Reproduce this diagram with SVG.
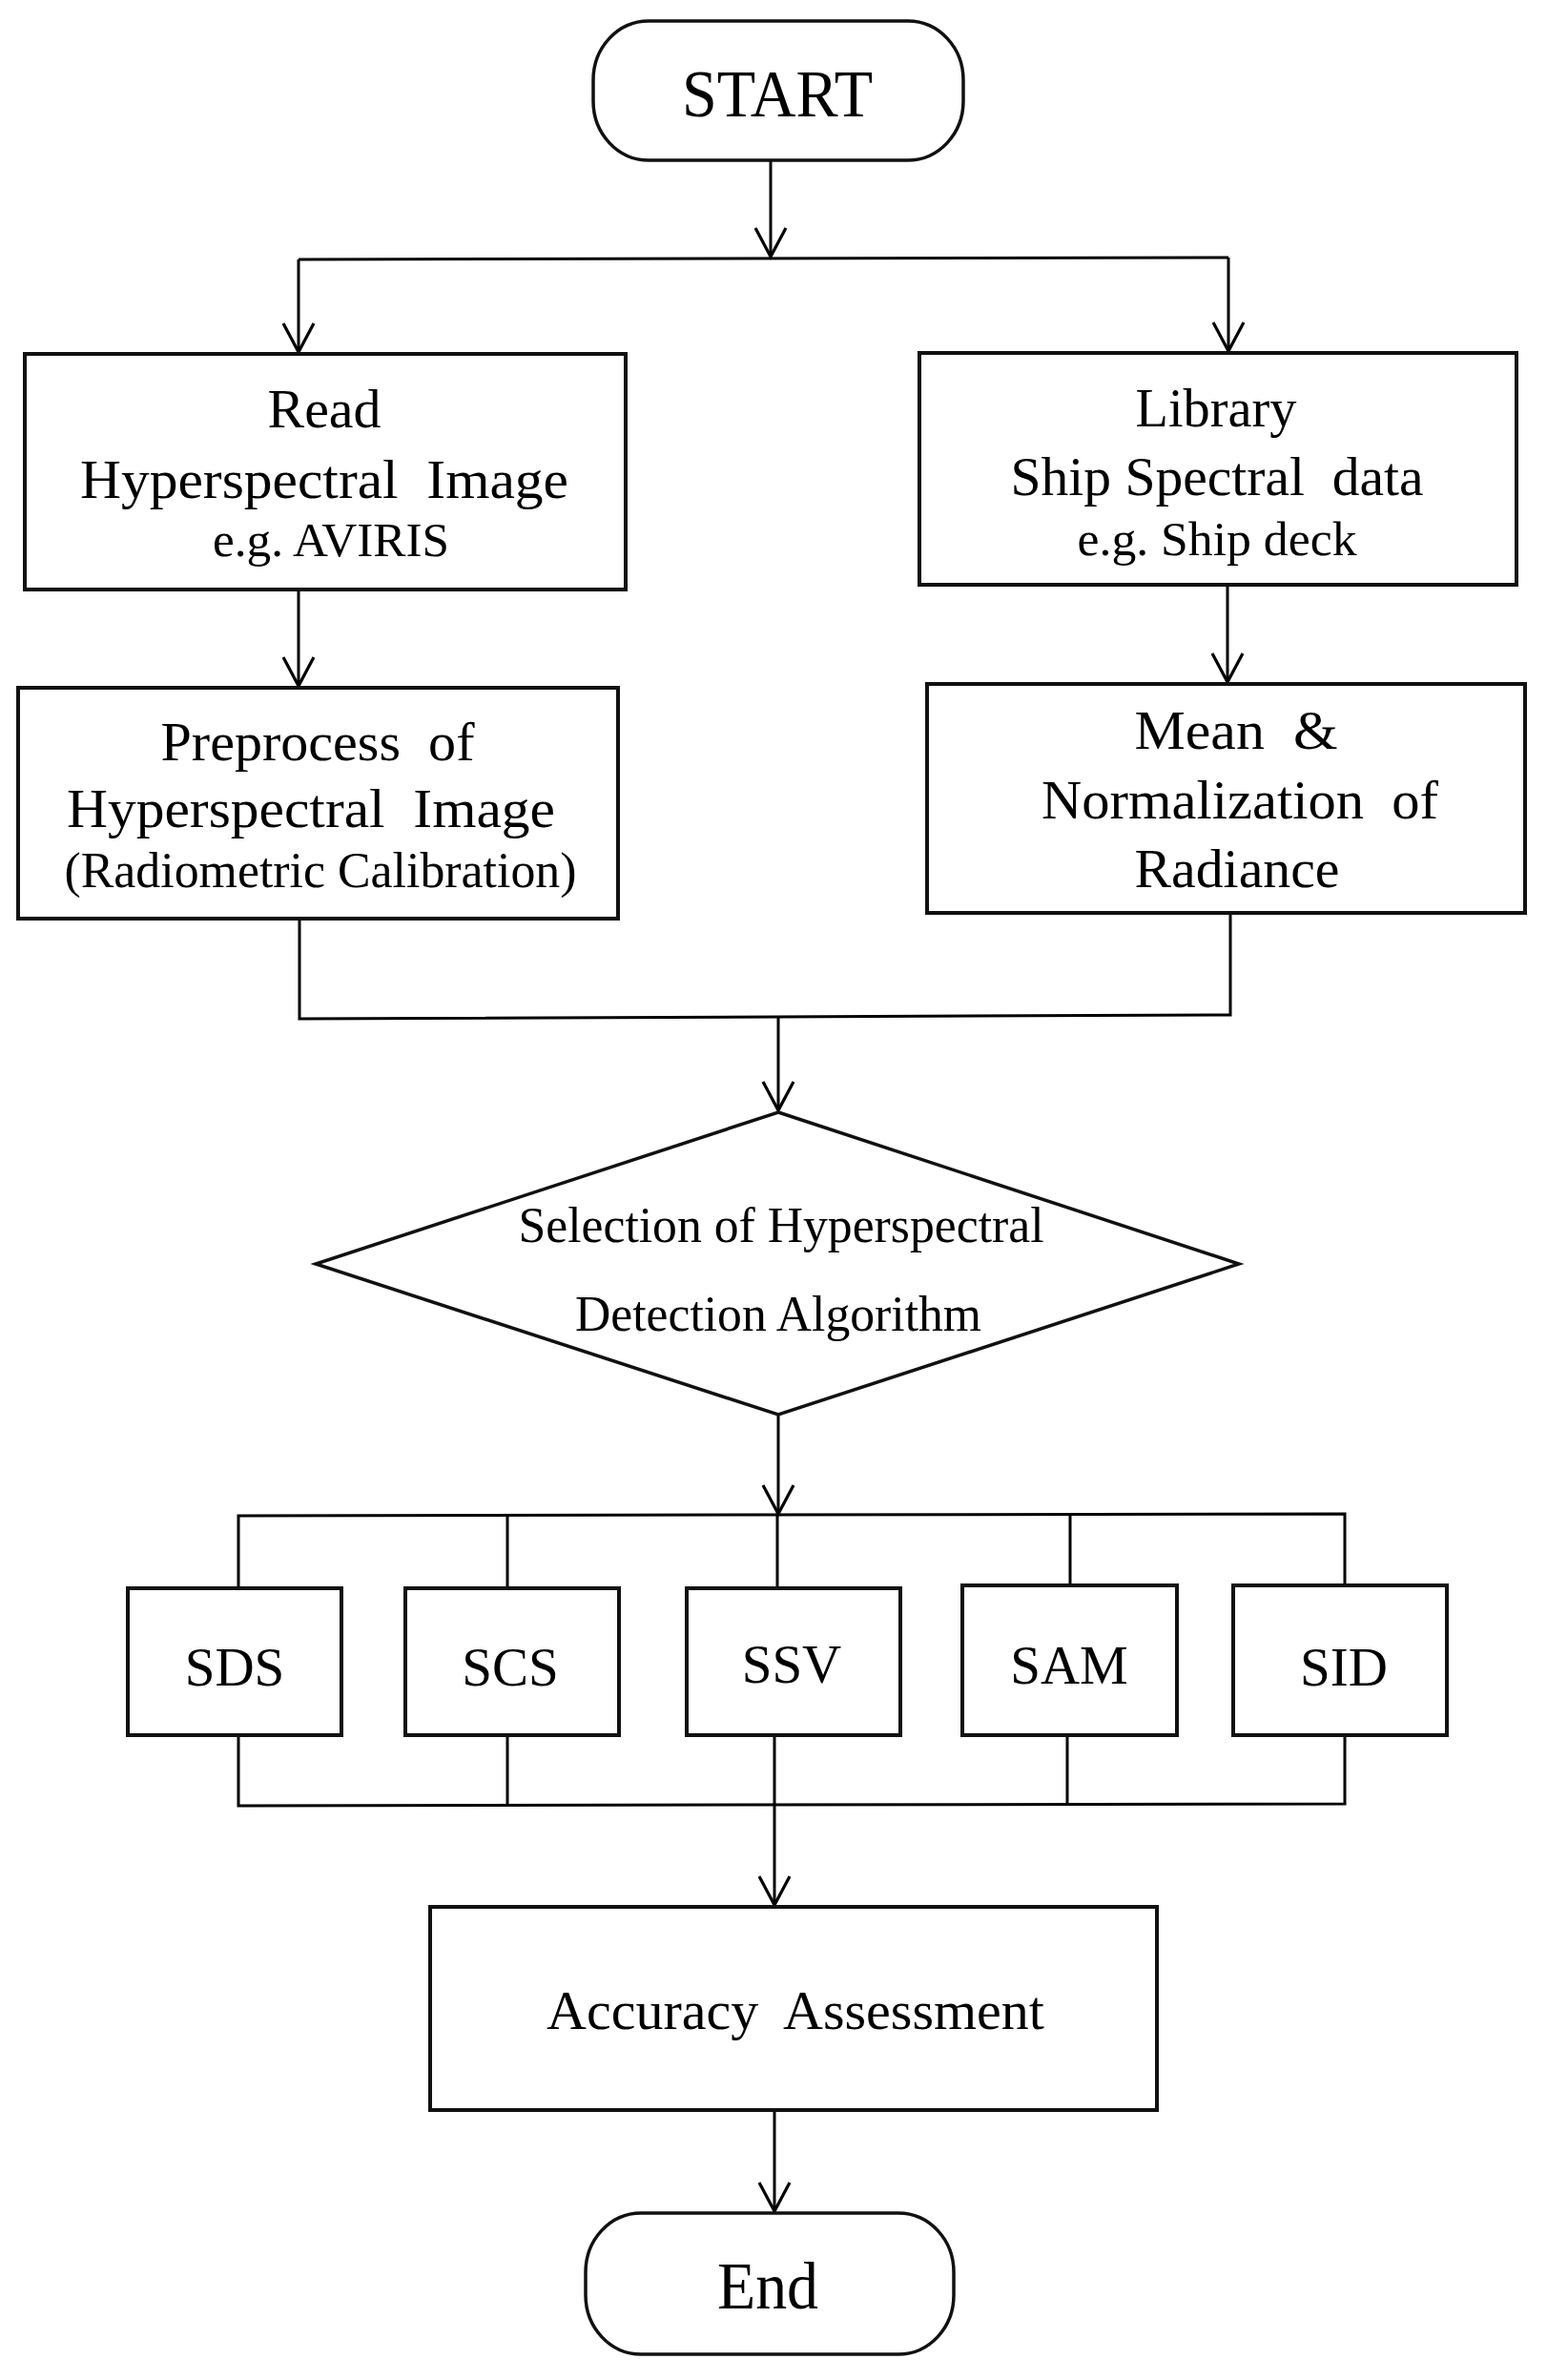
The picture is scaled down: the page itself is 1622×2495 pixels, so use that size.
<svg xmlns="http://www.w3.org/2000/svg" width="1622" height="2495" viewBox="0 0 1622 2495">
<defs>
<marker id="arr" markerUnits="userSpaceOnUse" markerWidth="40" markerHeight="40" refX="0" refY="0" orient="auto" overflow="visible">
<path d="M-30,-16 L0,0 L-30,16" fill="none" stroke="#000" stroke-width="3.2" stroke-linejoin="miter"/>
</marker>
<style>
.box{fill:#fff;stroke:#111;stroke-width:4}
.term{fill:#fff;stroke:#111;stroke-width:3.5}
.ln{fill:none;stroke:#000;stroke-width:3}
.ar{fill:none;stroke:#000;stroke-width:3;marker-end:url(#arr)}
text{font-family:"Liberation Serif","Times New Roman",serif;fill:#000;text-anchor:middle;white-space:pre}
.t57{font-size:57px}
.t50{font-size:50px}
.t52{font-size:52px}
.t70{font-size:70px}
</style>
</defs>
<rect width="1622" height="2495" fill="#fff"/>

<g id="connectors">
<path class="ar" d="M808,168 V269"/>
<path class="ln" d="M313,272 L1288,270"/>
<path class="ar" d="M313,272 V369"/>
<path class="ar" d="M1288,270 V368"/>
<path class="ar" d="M313,619 V719"/>
<path class="ar" d="M1287,614 V715"/>
<path class="ln" d="M314,964 V1068 L1290,1064 V958"/>
<path class="ar" d="M816,1066 V1164"/>
<path class="ar" d="M816,1483 V1587"/>
<path class="ln" d="M250,1665 V1589 L1410,1587 V1662"/>
<path class="ln" d="M532,1588 V1665 M815,1588 V1665 M1122,1587 V1662"/>
<path class="ln" d="M250,1819 V1893 L1410,1891 V1819"/>
<path class="ln" d="M532,1819 V1892 M812,1819 V1892 M1119,1819 V1891"/>
<path class="ar" d="M812,1892 V1997"/>
<path class="ar" d="M812,2212 V2318"/>
</g>

<g id="start">
<rect class="term" x="622" y="22" width="388" height="146" rx="58" ry="62"/>
<text class="t70" x="815" y="122" textLength="200" lengthAdjust="spacingAndGlyphs">START</text>
</g>

<g id="read">
<rect class="box" x="26" y="371" width="630" height="247"/>
<text class="t57" x="340" y="448" textLength="119" lengthAdjust="spacingAndGlyphs">Read</text>
<text class="t57" x="340" y="522" textLength="512" lengthAdjust="spacingAndGlyphs">Hyperspectral  Image</text>
<text class="t50" x="347" y="583" textLength="248" lengthAdjust="spacingAndGlyphs">e.g. AVIRIS</text>
</g>

<g id="library">
<rect class="box" x="964" y="370" width="626" height="243"/>
<text class="t57" x="1275" y="447" textLength="169" lengthAdjust="spacingAndGlyphs">Library</text>
<text class="t57" x="1276" y="519" textLength="433" lengthAdjust="spacingAndGlyphs">Ship Spectral  data</text>
<text class="t50" x="1276" y="582" textLength="293" lengthAdjust="spacingAndGlyphs">e.g. Ship deck</text>
</g>

<g id="preprocess">
<rect class="box" x="19" y="721" width="629" height="242"/>
<text class="t57" x="333" y="797" textLength="329" lengthAdjust="spacingAndGlyphs">Preprocess  of</text>
<text class="t57" x="326" y="867" textLength="512" lengthAdjust="spacingAndGlyphs">Hyperspectral  Image</text>
<text class="t52" x="336" y="930" textLength="537" lengthAdjust="spacingAndGlyphs">(Radiometric Calibration)</text>
</g>

<g id="mean">
<rect class="box" x="972" y="717" width="627" height="240"/>
<text class="t57" x="1296" y="785" textLength="213" lengthAdjust="spacingAndGlyphs">Mean  &amp;</text>
<text class="t57" x="1300" y="858" textLength="416" lengthAdjust="spacingAndGlyphs">Normalization  of</text>
<text class="t57" x="1297" y="930" textLength="215" lengthAdjust="spacingAndGlyphs">Radiance</text>
</g>

<g id="selection">
<polygon points="816,1166 1299,1325 816,1483 331,1325" fill="#fff" stroke="#111" stroke-width="3.5"/>
<text class="t52" x="819" y="1302" textLength="551" lengthAdjust="spacingAndGlyphs">Selection of Hyperspectral</text>
<text class="t52" x="816" y="1395" textLength="426" lengthAdjust="spacingAndGlyphs">Detection Algorithm</text>
</g>

<g id="sds">
<rect class="box" x="134" y="1665" width="224" height="154"/>
<text class="t57" x="246" y="1767">SDS</text>
</g>
<g id="scs">
<rect class="box" x="425" y="1665" width="224" height="154"/>
<text class="t57" x="535" y="1767">SCS</text>
</g>
<g id="ssv">
<rect class="box" x="720" y="1665" width="224" height="154"/>
<text class="t57" x="830" y="1764">SSV</text>
</g>
<g id="sam">
<rect class="box" x="1009" y="1662" width="225" height="157"/>
<text class="t57" x="1121" y="1765">SAM</text>
</g>
<g id="sid">
<rect class="box" x="1293" y="1662" width="224" height="157"/>
<text class="t57" x="1409" y="1767">SID</text>
</g>

<g id="accuracy">
<rect class="box" x="451" y="1999" width="762" height="213"/>
<text class="t57" x="834" y="2127" textLength="522" lengthAdjust="spacingAndGlyphs">Accuracy  Assessment</text>
</g>

<g id="end">
<rect class="term" x="614" y="2320" width="386" height="148" rx="58" ry="62"/>
<text class="t70" x="805" y="2420" textLength="106" lengthAdjust="spacingAndGlyphs">End</text>
</g>
</svg>
